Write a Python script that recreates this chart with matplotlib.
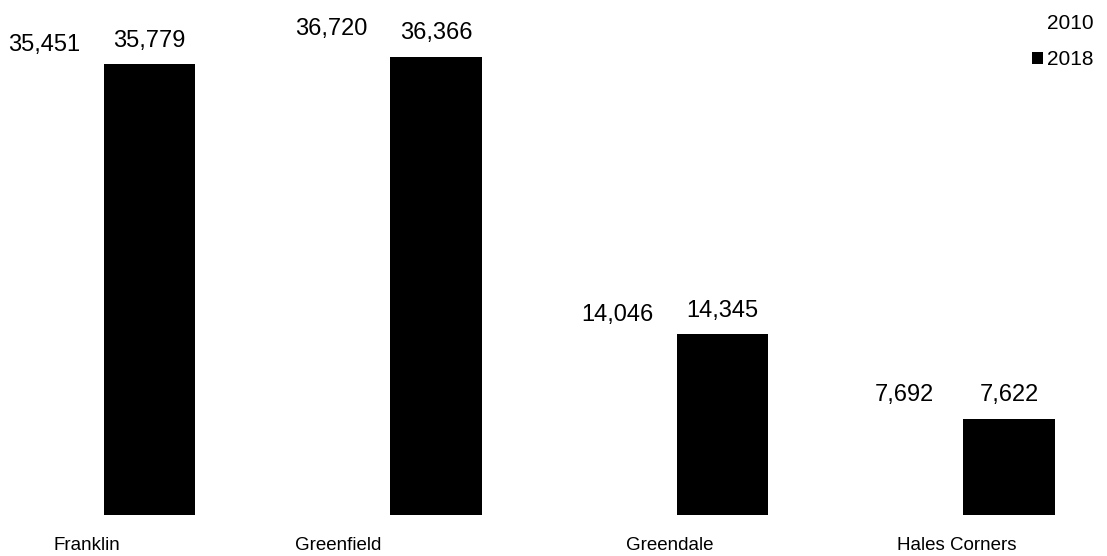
import matplotlib.pyplot as plt
import numpy as np
from matplotlib.patches import Patch

plt.rcParams["font.family"] = ["Liberation Sans", "DejaVu Sans"]

cities = ["Franklin", "Greenfield", "Greendale", "Hales Corners"]
pop_2010 = [35451, 36720, 14046, 7692]
pop_2018 = [35779, 36366, 14345, 7622]
label_shift = [-0.035, -0.16, 0.0, 0.0]

x = np.arange(len(cities))
w = 0.318
off = 0.183

fig = plt.figure(figsize=(11.07, 5.56), dpi=100)
ax = fig.add_axes([0, 41 / 556, 1, 515 / 556])

b10 = ax.bar(x - off, pop_2010, w, color="white")
b18 = ax.bar(x + off, pop_2018, w, color="black")

for bars, vals in ((b10, pop_2010), (b18, pop_2018)):
    for b, v in zip(bars, vals):
        ax.annotate(f"{v:,}", (b.get_x() + b.get_width() / 2, v),
                    xytext=(0, 9), textcoords="offset points",
                    ha="center", va="bottom", fontsize=17)

for xi, name, s in zip(x, cities, label_shift):
    ax.annotate(name, (xi + s, 0), xytext=(0, -16), textcoords="offset points",
                ha="center", va="top", fontsize=13.5)

ax.set_xlim(-0.3386, 3.525)
ax.set_ylim(0, 40870)
ax.axis("off")

handles = [Patch(facecolor="white", label="2010"),
           Patch(facecolor="black", label="2018")]
fig.legend(handles=handles, loc="upper right", bbox_to_anchor=(1.0, 1.0),
           frameon=False, fontsize=15, handlelength=0.5, handleheight=0.5,
           handletextpad=0.2, labelspacing=0.85, borderaxespad=0.25)

fig.savefig("out.png", dpi=100)
